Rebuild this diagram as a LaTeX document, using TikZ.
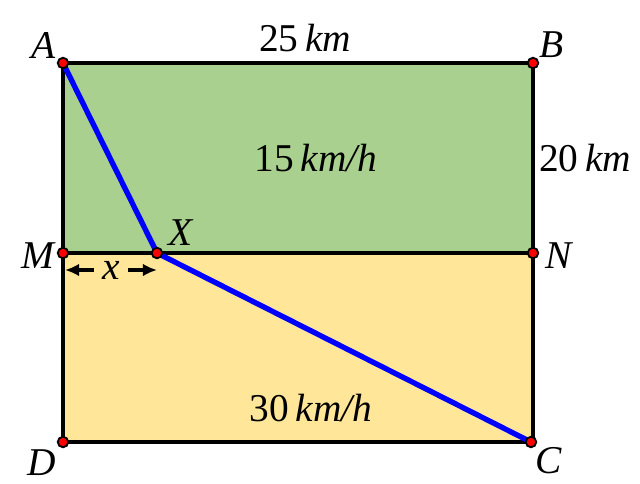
\documentclass[tikz,border=0pt]{standalone}
\usepackage{fontspec}
\setmainfont{Liberation Serif}
\usetikzlibrary{positioning,arrows.meta}
\definecolor{fieldgreen}{RGB}{169,208,142}
\definecolor{fieldyellow}{RGB}{255,230,153}
\begin{document}
\begin{tikzpicture}[
  x=0.025cm, y=-0.025cm,
  >={Latex[length=10pt,width=9pt]},
  pt/.style={circle, fill=red, draw=black, line width=1.3pt, inner sep=0pt, minimum size=7.5pt},
  lbl/.style={font=\fontsize{28}{32}\selectfont\itshape, inner sep=1pt},
  txt/.style={font=\fontsize{28}{32}\selectfont, inner sep=1pt},
  border/.style={line width=2.3pt},
  route/.style={blue, line width=3.8pt}
]
\useasboundingbox (0,0) rectangle (640,483);
% regions
\fill[fieldgreen] (63,63) rectangle (533,253);
\fill[fieldyellow] (63,253) rectangle (533,442);
% points
\coordinate (a) at (63,63);
\coordinate (b) at (533,63);
\coordinate (m) at (63,253);
\coordinate (n) at (533,253);
\coordinate (d) at (63,442);
\coordinate (corner) at (533,442);
\coordinate (c) at (531,442);
\coordinate (x) at (157,253);
\draw[border] (a) -- (b) -- (corner) -- (d) -- cycle;
\draw[border] (m) -- (n);
\draw[route, line join=round] (a) -- (x) -- (c);
% dots
\foreach \p in {a,b,m,n,d,c,x}
  \node[pt] at (\p) {};
% labels
\node[lbl] (la) at (44,45) {A};
\node[lbl] (lb) at (552,45) {B};
\node[lbl] (lm) at (38,256) {M};
\node[lbl] (ln) at (559,256) {N};
\node[lbl] (ld) at (42,463) {D};
\node[lbl] (lc) at (549,461) {C};
\node[lbl] (lx) at (181,233) {X};
\node[txt] (top) at (305,38) {25\,\textit{km}};
\node[txt] (side) at (585,158) {20\,\textit{km}};
\node[txt] (up) at (316,158) {15\,\textit{km/h}};
\node[txt] (low) at (311,408) {30\,\textit{km/h}};
% x measure
\coordinate (xl) at (65,270);
\coordinate (xr) at (157,270);
\node[lbl, inner sep=6pt] (xlab) at (111,270) {x};
\draw[->, line width=2.2pt] (xlab) -- (xl);
\draw[->, line width=2.2pt] (xlab) -- (xr);
\end{tikzpicture}
\end{document}
